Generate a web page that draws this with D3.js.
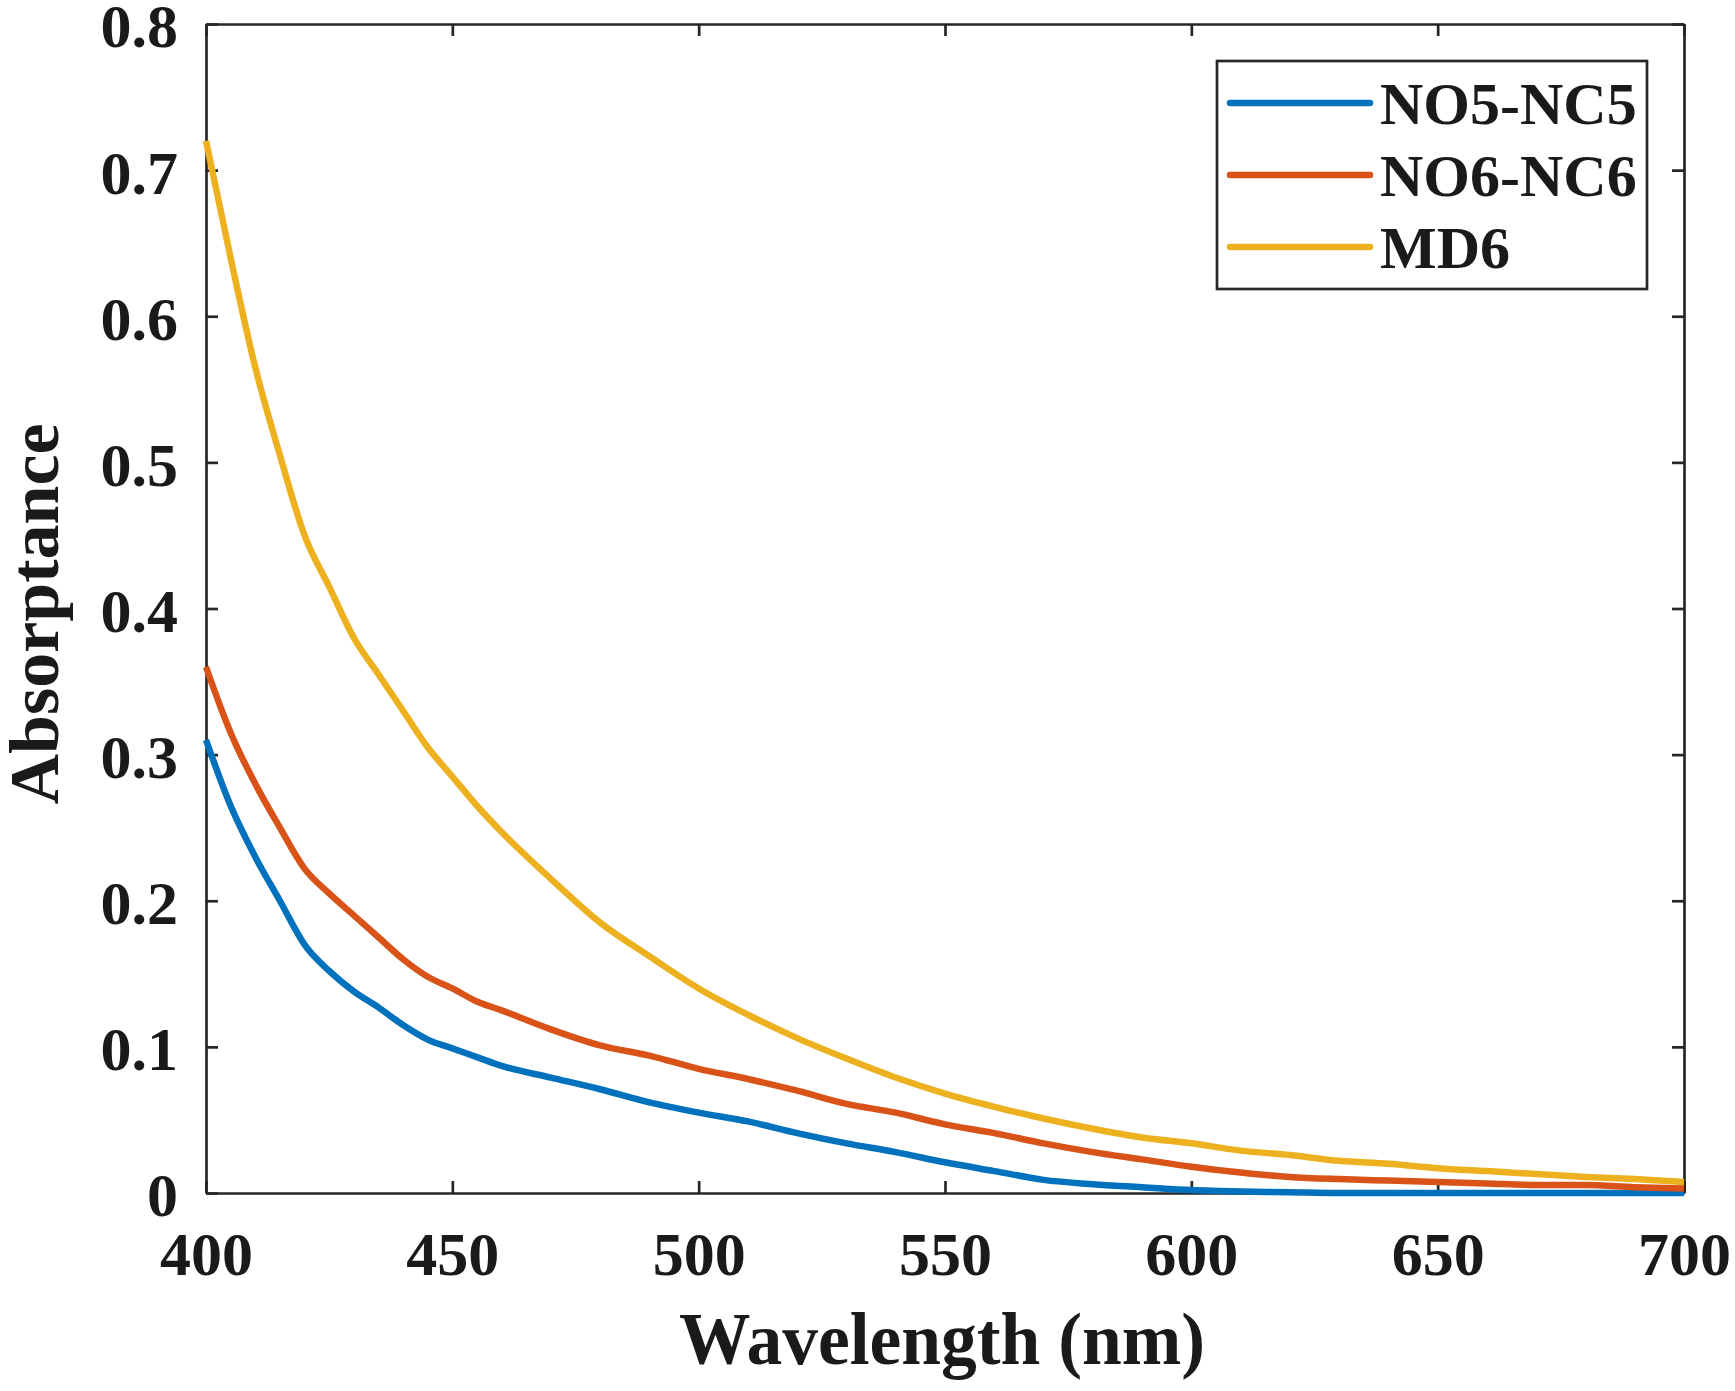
<!DOCTYPE html>
<html>
<head>
<meta charset="utf-8">
<script src="https://cdn.jsdelivr.net/npm/d3@7"></script>
<style>
  body { margin: 0; background: #fff; }
  text { font-family: "Liberation Serif", "Times New Roman", serif; font-weight: bold; fill: #1a1a1a; }
</style>
</head>
<body>
<div class="chart"></div>
<script>
// wavelength samples (nm)
const wavelength = [400, 405, 410, 415, 420, 425, 430, 435, 440, 445, 450, 455, 460, 470, 480, 490, 500,
  510, 520, 530, 540, 550, 560, 570, 580, 590, 600, 610, 620, 630, 640, 650, 660, 670, 680, 690, 700]

const no5nc5 = [0.31, 0.265, 0.23, 0.2, 0.17, 0.152, 0.138, 0.127, 0.115, 0.105, 0.099, 0.093, 0.087, 0.079, 0.071, 0.062, 0.055,
  0.049, 0.041, 0.034, 0.028, 0.021, 0.015, 0.009, 0.006, 0.004, 0.002, 0.001, 0.0005, 0, 0, 0, 0, 0, 0, 0, 0]

const no6nc6 = [0.36, 0.315, 0.28, 0.25, 0.222, 0.205, 0.19, 0.175, 0.16, 0.148, 0.14, 0.131, 0.125, 0.112, 0.101, 0.094, 0.085,
  0.078, 0.07, 0.061, 0.055, 0.047, 0.041, 0.034, 0.028, 0.023, 0.018, 0.014, 0.011, 0.0095, 0.0085, 0.0075, 0.0065, 0.0055, 0.0055, 0.004, 0.003]

const md6 = [0.72, 0.64, 0.565, 0.505, 0.45, 0.415, 0.38, 0.355, 0.33, 0.305, 0.285, 0.265, 0.247, 0.215, 0.185, 0.162, 0.14,
  0.122, 0.106, 0.092, 0.079, 0.068, 0.059, 0.051, 0.044, 0.038, 0.034, 0.029, 0.026, 0.022, 0.02, 0.017, 0.015, 0.013, 0.011, 0.0095, 0.0075]

const seriesNames = ['NO5-NC5', 'NO6-NC6', 'MD6']
const seriesColors = ['#0072BD', '#D95319', '#EDB120']
const seriesValues = [no5nc5, no6nc6, md6]

const xTicks = [400, 450, 500, 550, 600, 650, 700]
const yTicks = [0, 0.1, 0.2, 0.3, 0.4, 0.5, 0.6, 0.7, 0.8]

const width = 1735
const height = 1391
const plotLeft = 206, plotRight = 1684, plotTop = 24, plotBottom = 1193

let svg = d3.select('.chart')
.append('svg')
.attr('width', width)
.attr('height', height)

let x = d3.scaleLinear()
.domain([400, 700])
.range([plotLeft, plotRight])

let y = d3.scaleLinear()
.domain([0, 0.8])
.range([plotBottom, plotTop])

const fmt = d3.format('~g')
const axisColor = '#262626'

// four sided box, ticks pointing in
svg.append('g')
.attr('class', 'xaxis')
.attr('transform', `translate(0,${plotBottom})`)
.call(d3.axisBottom(x).tickValues(xTicks).tickFormat(fmt).tickSizeInner(-12).tickSizeOuter(0).tickPadding(38))

svg.append('g')
.attr('transform', `translate(0,${plotTop})`)
.call(d3.axisTop(x).tickValues(xTicks).tickFormat('').tickSizeInner(-12).tickSizeOuter(0))

svg.append('g')
.attr('class', 'yaxis')
.attr('transform', `translate(${plotLeft},0)`)
.call(d3.axisLeft(y).tickValues(yTicks).tickFormat(fmt).tickSizeInner(-12).tickSizeOuter(0).tickPadding(28))

svg.append('g')
.attr('transform', `translate(${plotRight},0)`)
.call(d3.axisRight(y).tickValues(yTicks).tickFormat('').tickSizeInner(-12).tickSizeOuter(0))

svg.selectAll('.domain, .tick line')
.attr('stroke', axisColor)
.attr('stroke-width', 2.7)

svg.selectAll('.xaxis text, .yaxis text')
.attr('font-size', 62)
.attr('fill', '#1a1a1a')
.attr('font-family', '"Liberation Serif", "Times New Roman", serif')

svg.selectAll('.yaxis text')
.attr('dy', '0.37em')

// curves
let line = d3.line()
.x((d, i) => x(wavelength[i]))
.y(d => y(d))
.curve(d3.curveMonotoneX)

seriesValues.forEach((vals, k) => {
	svg.append('path')
	.datum(vals)
	.attr('d', line)
	.attr('fill', 'none')
	.attr('stroke', seriesColors[k])
	.attr('stroke-width', 6.5)
	.attr('stroke-linejoin', 'round')
})

// axis labels
svg.append('text')
.attr('x', 942)
.attr('y', 1364)
.attr('text-anchor', 'middle')
.attr('font-size', 75)
.attr('textLength', 526)
.attr('lengthAdjust', 'spacingAndGlyphs')
.text('Wavelength (nm)')

svg.append('text')
.attr('transform', 'translate(58,614) rotate(-90)')
.attr('text-anchor', 'middle')
.attr('font-size', 70)
.text('Absorptance')

// legend
let legend = svg.append('g')

legend.append('rect')
.attr('x', 1217)
.attr('y', 61)
.attr('width', 430)
.attr('height', 228)
.attr('fill', '#fff')
.attr('stroke', axisColor)
.attr('stroke-width', 2.7)

seriesNames.forEach((name, k) => {
	let ly = 103 + k * 72
	legend.append('line')
	.attr('x1', 1230)
	.attr('x2', 1370)
	.attr('y1', ly)
	.attr('y2', ly)
	.attr('stroke', seriesColors[k])
	.attr('stroke-width', 6.5)
	.attr('stroke-linecap', 'round')

	legend.append('text')
	.attr('x', 1380)
	.attr('y', ly + 21)
	.attr('font-size', 60)
	.text(name)
})
</script>
</body>
</html>
